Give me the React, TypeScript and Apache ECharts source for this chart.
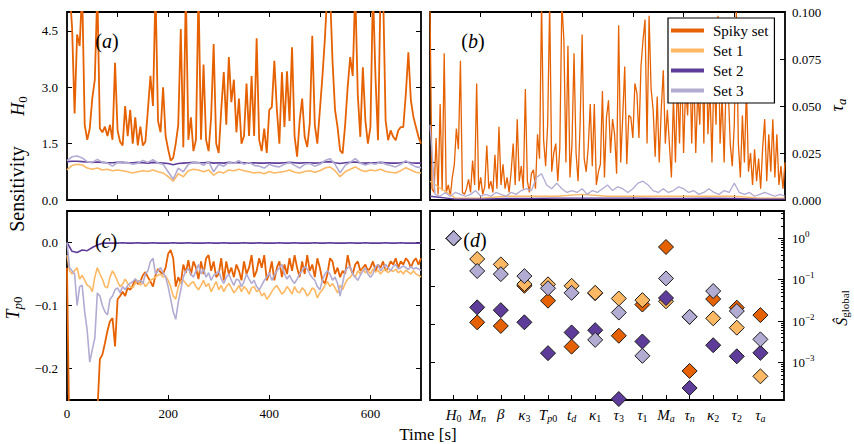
import { useEffect, useRef } from "react";
import * as echarts from "echarts";

// ---------- series styling ----------
const SERIES_NAMES = ["Spiky set", "Set 1", "Set 2", "Set 3"];
const SERIES_COLORS = ["#e66101", "#fdb863", "#5e3c99", "#b2abd2"];
const FONT = '"Liberation Serif", "DejaVu Serif", serif';

// ---------- (a) sensitivity to H0, sampled every 5 s (spiky) / 10 s (sets) ----------
const A_STEP_SPIKY = 5;
const aSpiky = [
  5.6, 5.6, 4.6, 2.3, 4.4, 4.1, 5.6, 2.0, 1.6, 1.9,
  2.7, 3.2, 5.6, 1.9, 1.8, 1.95, 1.7, 2.0, 1.6, 3.65,
  1.85, 1.55, 1.45, 2.5, 1.7, 2.4, 1.5, 2.2, 1.45, 1.95,
  1.45, 1.55, 2.4, 3.3, 2.5, 5.6, 2.1, 1.8, 3.0, 1.7,
  1.35, 1.05, 1.12, 1.5, 2.0, 4.55, 1.4, 5.6, 1.6, 2.2,
  1.3, 1.6, 5.6, 1.6, 3.6, 1.6, 1.3, 2.2, 4.15, 1.5,
  1.25, 2.4, 3.4, 2.0, 3.8, 2.6, 3.2, 1.8, 2.7, 1.5,
  1.7, 3.1, 1.7, 3.3, 1.7, 4.3, 1.6, 1.3, 1.9, 1.25,
  2.4, 2.47, 3.7, 2.4, 1.5, 3.4, 1.94, 3.42, 2.1, 4.06,
  1.7, 1.15, 2.1, 2.7, 1.68, 1.41, 2.03, 4.37, 2.0, 1.5,
  2.38, 3.27, 4.3, 5.6, 5.6, 3.7, 2.4, 1.94, 1.32, 1.24,
  2.0, 3.0, 3.8, 3.3, 5.6, 2.8, 1.68, 3.53, 2.12, 1.5,
  1.94, 5.6, 3.27, 1.59, 5.6, 5.6, 2.12, 1.59, 1.85, 1.68,
  1.59, 1.85, 1.94, 1.94, 2.82, 3.93, 2.65, 2.21, 1.94, 1.68,
  1.5,
];
const A_STEP_SETS = 10;
const aSet1 = [
  0.8, 0.92, 0.95, 0.93, 0.85, 0.82, 0.85, 0.8, 0.82, 0.78,
  0.8, 0.78, 0.75, 0.72, 0.75, 0.78, 0.76, 0.8, 0.75, 0.72,
  0.62, 0.5, 0.7, 0.62, 0.78, 0.82, 0.8, 0.75, 0.8, 0.66,
  0.75, 0.72, 0.8, 0.78, 0.82, 0.78, 0.75, 0.72, 0.74, 0.7,
  0.76, 0.72, 0.74, 0.76, 0.8, 0.74, 0.72, 0.76, 0.78, 0.74,
  0.78, 0.85, 0.88, 0.78, 0.62, 0.75, 0.82, 0.88, 0.8, 0.76,
  0.8, 0.78, 0.82, 0.76, 0.74, 0.72, 0.78, 0.86, 0.8, 0.74,
  0.72,
];
const aSet2 = [
  1.02, 1.03, 1.03, 1.02, 1.01, 1.0, 1.01, 1.0, 0.99, 0.99,
  1.0, 1.0, 0.99, 0.99, 1.0, 0.99, 0.98, 1.0, 0.99, 0.98,
  0.97, 0.94, 0.97, 0.98, 0.99, 1.0, 0.99, 0.99, 1.0, 0.98,
  0.99, 0.98, 1.0, 0.99, 1.0, 0.99, 0.98, 0.99, 0.98, 0.98,
  0.99, 0.98, 0.98, 0.99, 1.0, 0.99, 0.98, 0.99, 0.99, 0.98,
  0.99, 1.01, 1.02, 0.99, 0.97, 0.99, 1.0, 1.01, 0.99, 0.98,
  0.99, 0.99, 1.0, 0.99, 0.98, 0.98, 0.99, 1.01, 0.99, 0.98,
  0.98,
];
const aSet3 = [
  1.05, 1.15, 1.17, 1.12, 1.02, 1.0, 1.08, 1.0, 0.98, 0.9,
  1.0, 0.98, 1.0, 0.95, 0.98, 1.05, 1.0, 1.07, 0.98, 0.95,
  0.75, 0.55, 0.85, 0.75, 0.95, 1.0, 1.0, 0.92, 1.02, 0.75,
  0.95, 0.9, 1.0, 0.97, 1.05, 0.95, 1.0, 0.92, 0.9, 0.85,
  0.95, 0.9, 0.88, 0.95, 1.0, 0.92, 0.85, 0.95, 0.97, 0.9,
  0.95, 1.05, 1.1, 0.95, 0.72, 0.92, 1.0, 1.1, 0.98, 0.93,
  0.98, 0.95, 1.02, 0.95, 0.92, 0.88, 0.95, 1.05, 0.95, 0.88,
  0.86,
];

// ---------- (b) sensitivity to tau_a ----------
const B_STEP_SPIKY = 4;
const bSpiky = [
  0.105, 0.006, 0.004, 0.033, 0.003, 0.051, 0.005, 0.078, 0.004, 0.008,
  0.002, 0.012, 0.019, 0.038, 0.027, 0.074, 0.004, 0.003, 0.006, 0.011,
  0.004, 0.021, 0.008, 0.062, 0.005, 0.012, 0.003, 0.007, 0.029, 0.006,
  0.010, 0.004, 0.024, 0.006, 0.039, 0.008, 0.019, 0.006, 0.012, 0.004,
  0.015, 0.030, 0.008, 0.043, 0.010, 0.018, 0.006, 0.059, 0.010, 0.004,
  0.014, 0.016, 0.006, 0.035, 0.022, 0.105, 0.032, 0.018, 0.040, 0.105,
  0.015, 0.025, 0.030, 0.010, 0.028, 0.105, 0.085, 0.020, 0.082, 0.012,
  0.030, 0.078, 0.025, 0.010, 0.040, 0.088, 0.022, 0.015, 0.028, 0.051,
  0.018, 0.051, 0.008, 0.015, 0.019, 0.058, 0.012, 0.044, 0.053, 0.025,
  0.043, 0.035, 0.014, 0.093, 0.020, 0.044, 0.071, 0.019, 0.045, 0.044,
  0.033, 0.062, 0.057, 0.033, 0.071, 0.085, 0.096, 0.030, 0.098, 0.059,
  0.048, 0.023, 0.055, 0.020, 0.048, 0.069, 0.030, 0.048, 0.030, 0.012,
  0.055, 0.020, 0.065, 0.030, 0.075, 0.025, 0.060, 0.045, 0.080, 0.030,
  0.070, 0.025, 0.058, 0.040, 0.085, 0.030, 0.095, 0.035, 0.060, 0.020,
  0.070, 0.040, 0.098, 0.030, 0.055, 0.020, 0.065, 0.060, 0.030, 0.018,
  0.040, 0.100, 0.030, 0.012, 0.045, 0.020, 0.060, 0.015, 0.025, 0.008,
  0.027, 0.010, 0.022, 0.006, 0.028, 0.043, 0.010, 0.035, 0.015, 0.043,
  0.012, 0.035, 0.008, 0.018, 0.006, 0.020,
];
const B_STEP_LOW = 50;
const bSet1 = [0.010, 0.001, 0.001, 0.002, 0.002, 0.002, 0.003, 0.002, 0.002, 0.002, 0.002, 0.002, 0.002, 0.001, 0.001];
const bSet2 = [0.002, 0.0005, 0.0005, 0.0008, 0.0008, 0.001, 0.001, 0.001, 0.001, 0.0008, 0.0008, 0.001, 0.0008, 0.0005, 0.0005];
const B_STEP_SET3 = 10;
const bSet3 = [
  0.040, 0.003, 0.002, 0.004, 0.002, 0.004, 0.003, 0.002, 0.003, 0.005,
  0.002, 0.003, 0.002, 0.004, 0.003, 0.002, 0.004, 0.003, 0.005, 0.006,
  0.005, 0.012, 0.014, 0.008, 0.006, 0.009, 0.006, 0.004, 0.005, 0.004,
  0.006, 0.003, 0.005, 0.004, 0.006, 0.008, 0.005, 0.007, 0.006, 0.004,
  0.006, 0.009, 0.010, 0.008, 0.005, 0.004, 0.006, 0.004, 0.005, 0.007,
  0.006, 0.004, 0.005, 0.003, 0.004, 0.006, 0.004, 0.003, 0.005, 0.004,
  0.009, 0.004, 0.003, 0.004, 0.002, 0.003, 0.004, 0.003, 0.002, 0.003,
  0.002,
];

// ---------- (c) sensitivity to Tp0 ----------
const C_STEP = 5;
const cSpiky = [
  -0.04, -0.33, -0.36, -0.38, -0.39, -0.4, -0.39, -0.38, -0.36, -0.35,
  -0.34, -0.31, -0.27, -0.185, -0.178, -0.16, -0.14, -0.125, -0.12, -0.165,
  -0.09, -0.085, -0.078, -0.085, -0.072, -0.075, -0.068, -0.058, -0.066, -0.062,
  -0.052, -0.047, -0.055, -0.062, -0.07, -0.052, -0.042, -0.047, -0.05, -0.04,
  -0.018, -0.012, -0.025, -0.07, -0.055, -0.065, -0.035, -0.048, -0.028, -0.052,
  -0.03, -0.04, -0.058, -0.03, -0.05, -0.025, -0.02, -0.045, -0.03, -0.055,
  -0.05, -0.025, -0.06, -0.03, -0.05, -0.04, -0.055, -0.035, -0.045, -0.06,
  -0.03, -0.05, -0.04, -0.02, -0.055, -0.045, -0.025, -0.04, -0.02, -0.06,
  -0.05, -0.03, -0.06, -0.04, -0.03, -0.055, -0.035, -0.05, -0.025, -0.045,
  -0.02, -0.04, -0.055, -0.03, -0.05, -0.02, -0.045, -0.035, -0.055, -0.025,
  -0.04, -0.06, -0.065, -0.05, -0.025, -0.03, -0.05, -0.04, -0.055, -0.045,
  -0.05, -0.02, -0.04, -0.05, -0.035, -0.03, -0.045, -0.04, -0.035, -0.045,
  -0.04, -0.03, -0.045, -0.035, -0.04, -0.03, -0.045, -0.04, -0.03, -0.035,
  -0.025, -0.04, -0.03, -0.035, -0.025, -0.03, -0.04, -0.03, -0.025, -0.035,
  -0.025,
];
const cSet1 = [
  -0.02, -0.045, -0.05, -0.045, -0.04, -0.058, -0.052, -0.06, -0.068, -0.07,
  -0.078, -0.055, -0.04, -0.05, -0.058, -0.07, -0.072, -0.055, -0.045, -0.052,
  -0.062, -0.07, -0.066, -0.058, -0.065, -0.07, -0.072, -0.065, -0.06, -0.068,
  -0.062, -0.07, -0.065, -0.06, -0.058, -0.055, -0.052, -0.05, -0.055, -0.053,
  -0.06, -0.07, -0.085, -0.09, -0.07, -0.062, -0.06, -0.065, -0.07, -0.065,
  -0.062, -0.07, -0.075, -0.068, -0.06, -0.07, -0.065, -0.078, -0.07, -0.062,
  -0.075, -0.068, -0.078, -0.07, -0.065, -0.072, -0.08, -0.075, -0.068, -0.078,
  -0.07, -0.074, -0.082, -0.072, -0.07, -0.078, -0.075, -0.085, -0.08, -0.09,
  -0.085, -0.078, -0.072, -0.068, -0.075, -0.082, -0.078, -0.07, -0.075, -0.082,
  -0.07, -0.078, -0.08, -0.072, -0.076, -0.085, -0.08, -0.072, -0.075, -0.088,
  -0.08, -0.075, -0.068, -0.062, -0.07, -0.065, -0.072, -0.08, -0.068, -0.075,
  -0.065, -0.058, -0.055, -0.05, -0.055, -0.045, -0.05, -0.042, -0.048, -0.045,
  -0.05, -0.042, -0.047, -0.044, -0.05, -0.045, -0.042, -0.048, -0.044, -0.046,
  -0.042, -0.048, -0.045, -0.05, -0.044, -0.047, -0.05, -0.045, -0.05, -0.052,
  -0.055,
];
const cSet3 = [
  0.0, -0.04, -0.045, -0.05, -0.1, -0.07, -0.068, -0.11, -0.14, -0.19,
  -0.17, -0.152, -0.08, -0.085, -0.1, -0.11, -0.115, -0.09, -0.085, -0.075,
  -0.072, -0.08, -0.07, -0.075, -0.068, -0.065, -0.062, -0.058, -0.063, -0.06,
  -0.065, -0.05, -0.045, -0.03, -0.025, -0.05, -0.045, -0.04, -0.048, -0.055,
  -0.07, -0.09, -0.11, -0.122, -0.095, -0.075, -0.055, -0.045, -0.042, -0.05,
  -0.055, -0.045, -0.035, -0.05, -0.042, -0.055, -0.048, -0.06, -0.052, -0.05,
  -0.045, -0.058, -0.065, -0.055, -0.05, -0.06, -0.068, -0.058, -0.06, -0.07,
  -0.062, -0.05, -0.058, -0.065, -0.06, -0.07, -0.075, -0.068, -0.06, -0.055,
  -0.048, -0.06, -0.052, -0.045, -0.04, -0.035, -0.05, -0.058, -0.052, -0.06,
  -0.065, -0.058, -0.05, -0.045, -0.038, -0.042, -0.05, -0.056, -0.06, -0.07,
  -0.075, -0.06, -0.05, -0.045, -0.05, -0.06, -0.055, -0.065, -0.085, -0.065,
  -0.045, -0.04, -0.038, -0.05, -0.055, -0.06, -0.052, -0.045, -0.04, -0.05,
  -0.055, -0.05, -0.038, -0.035, -0.045, -0.04, -0.035, -0.04, -0.045, -0.038,
  -0.035, -0.042, -0.04, -0.037, -0.04, -0.043, -0.038, -0.042, -0.04, -0.042,
  -0.044,
];
const C_STEP_SET2 = 10;
const cSet2 = [
  0.0, -0.014, -0.016, -0.012, -0.013, -0.008, -0.004, -0.001, -0.001, -0.001,
  -0.001, -0.0005, -0.001, -0.001, -0.0005, -0.001, -0.001, -0.0005, -0.001, -0.001,
  -0.001, -0.0005, -0.001, -0.001, -0.0005, -0.001, -0.001, -0.001, -0.0005, -0.001,
  -0.001, -0.0005, -0.001, -0.001, -0.001, -0.0005, -0.001, -0.001, -0.0005, -0.001,
  -0.001, -0.001, -0.0005, -0.001, -0.001, -0.0005, -0.001, -0.001, -0.001, -0.0005,
  -0.001, -0.001, -0.0005, -0.001, -0.001, -0.001, -0.0005, -0.001, -0.001, -0.0005,
  -0.001, -0.001, -0.001, -0.0005, -0.001, -0.001, -0.0005, -0.001, -0.001, -0.001,
  -0.001,
];

// ---------- (d) global sensitivity per parameter ----------
const parameters = ["H0", "Mn", "beta", "kappa3", "Tp0", "td", "kappa1", "tau3", "tau1", "Ma", "taun", "kappa2", "tau2", "taua"];
const parameterLabels = [
  "{i|H}{s|0}", "{i|M}{si|n}", "{i|β}", "{i|κ}{s|3}", "{i|T}{si|p}{s|0}", "{i|t}{si|d}", "{i|κ}{s|1}",
  "{i|τ}{s|3}", "{i|τ}{s|1}", "{i|M}{si|a}", "{i|τ}{si|n}", "{i|κ}{s|2}", "{i|τ}{s|2}", "{i|τ}{si|a}",
];
const dSpiky = [1.0, 0.0093, 0.0076, 0.071, 0.031, 0.0024, 0.047, 0.0044, 0.025, 0.616, 0.00062, 0.034, 0.021, 0.0139];
const dSet1 = [1.0, 0.316, 0.234, 0.078, 0.077, 0.071, 0.048, 0.035, 0.032, 0.03, 0.0126, 0.0116, 0.0069, 0.00046];
const dSet2 = [1.0, 0.0214, 0.0183, 0.0093, 0.00167, 0.0053, 0.006, 0.00013, 0.0032, 0.036, 0.00024, 0.0026, 0.0014, 0.0017];
const dSet3 = [1.0, 0.162, 0.136, 0.122, 0.062, 0.048, 0.0035, 0.016, 0.00144, 0.107, 0.0126, 0.053, 0.0174, 0.0036];

// axis limits and ticks
const TIME_MAX = 700;
const A_TICKS = [0, 1.5, 3.0, 4.5];
const B_TICKS = [0, 0.025, 0.05, 0.075, 0.1];
const C_TICKS = [-0.2, -0.1, 0.0];
const D_LOG_MIN = -3.91;
const D_LOG_MAX = 0.66;
const D_DECADES = [-3, -2, -1, 0];

// ---------- option building ----------
const toPairs = (values: number[], step: number) => values.map((v, i) => [i * step, v]);

const tickStyle = (length = 5) => ({
  show: true,
  inside: true,
  length,
  lineStyle: { color: "#000", width: 1 },
});

const hiddenLine = { show: false, onZero: false };

const timeAxis = (gridIndex: number, position: "top" | "bottom", ticks: number[], labels: boolean) => ({
  type: "value",
  gridIndex,
  position,
  min: 0,
  max: TIME_MAX,
  axisLine: hiddenLine,
  splitLine: { show: false },
  axisTick: { ...tickStyle(), customValues: ticks },
  axisLabel: labels
    ? { show: true, customValues: ticks, margin: 7, color: "#000", fontFamily: FONT, fontSize: 13 }
    : { show: false },
});

const valueAxis = (
  gridIndex: number,
  position: "left" | "right",
  min: number,
  max: number,
  ticks: number[],
  formatter: ((v: number) => string) | null,
  extra: any = {}
) => ({
  type: "value",
  gridIndex,
  position,
  min,
  max,
  axisLine: hiddenLine,
  splitLine: { show: false },
  axisTick: { ...tickStyle(extra.tickLength ?? 5), customValues: ticks },
  axisLabel: formatter
    ? {
        show: true,
        customValues: ticks,
        formatter,
        margin: extra.margin ?? 8,
        color: "#000",
        fontFamily: FONT,
        fontSize: 13,
        rich: extra.rich,
      }
    : { show: false },
});

const minus = (v: number, digits: number) => (v < 0 ? "\u2212" + Math.abs(v).toFixed(digits) : v.toFixed(digits));

const minorLogTicks: number[] = [];
for (let n = -4; n <= 0; n++) {
  for (let k = 2; k <= 9; k++) {
    const lv = Math.log10(k * Math.pow(10, n));
    if (lv > D_LOG_MIN && lv < D_LOG_MAX) minorLogTicks.push(lv);
  }
}

const lineSeries = (name: string, color: string, data: number[][], xi: number, yi: number, width: number) => ({
  type: "line",
  name,
  data,
  xAxisIndex: xi,
  yAxisIndex: yi,
  showSymbol: false,
  symbol: "none",
  clip: true,
  lineStyle: { color, width },
  itemStyle: { color },
  emphasis: { disabled: true },
});

const scatterSeries = (name: string, color: string, values: number[]) => ({
  type: "scatter",
  name,
  xAxisIndex: 6,
  yAxisIndex: 6,
  symbol: "diamond",
  symbolSize: 15,
  data: values.map((v, i) => [i + 1, Math.log10(v)]),
  itemStyle: { color, borderColor: "#1a1a1a", borderWidth: 1, opacity: 1 },
  emphasis: { disabled: true },
});

const gridBox = (left: number, top: number, width: number, height: number) => ({
  left,
  top,
  width,
  height,
  show: true,
  borderColor: "#000",
  borderWidth: 1.8,
  backgroundColor: "transparent",
});

const subRich = {
  i: { fontStyle: "italic", fontFamily: FONT, fontSize: 15, color: "#000" },
  si: { fontStyle: "italic", fontFamily: FONT, fontSize: 10, color: "#000", padding: [7, 0, 0, 0] },
  s: { fontFamily: FONT, fontSize: 10, color: "#000", padding: [7, 0, 0, 0] },
};

const powRich = {
  b: { fontFamily: FONT, fontSize: 13, color: "#000" },
  sup: { fontFamily: FONT, fontSize: 9, color: "#000", padding: [0, 0, 9, 0] },
};

const gRich = (size: number) => ({
  i: { fontStyle: "italic", fontFamily: FONT, fontSize: size, fill: "#000" },
  p: { fontFamily: FONT, fontSize: size, fill: "#000" },
  r: { fontFamily: FONT, fontSize: size, fill: "#000" },
  si: { fontStyle: "italic", fontFamily: FONT, fontSize: Math.round(size * 0.7), fill: "#000", padding: [8, 0, 0, 0] },
  s: { fontFamily: FONT, fontSize: Math.round(size * 0.7), fill: "#000", padding: [8, 0, 0, 0] },
});

const textEl = (x: number, y: number, text: string, size: number, rotate = false) => ({
  type: "text",
  x,
  y,
  rotation: rotate ? Math.PI / 2 : 0,
  z: 100,
  style: {
    text,
    rich: gRich(size),
    fontFamily: FONT,
    fontSize: size,
    fill: "#000",
    align: "center",
    verticalAlign: "middle",
  },
});

function buildOption(): any {
  const [cS, c1, c2, c3] = SERIES_COLORS;
  const [nS, n1, n2, n3] = SERIES_NAMES;
  const paramTicks = parameters.map((_, i) => i + 1);
  return {
    animation: false,
    backgroundColor: "#fff",
    grid: [gridBox(67, 12, 354, 188), gridBox(430, 12, 355, 188), gridBox(67, 211, 354, 189), gridBox(430, 211, 354, 189)],
    xAxis: [
      timeAxis(0, "bottom", [100, 200, 300, 400, 500, 600], false),
      timeAxis(0, "top", [100, 200, 300, 400, 500, 600], false),
      timeAxis(1, "bottom", [100, 200, 300, 400, 500, 600], false),
      timeAxis(1, "top", [100, 200, 300, 400, 500, 600], false),
      timeAxis(2, "bottom", [0, 200, 400, 600], true),
      timeAxis(2, "top", [200, 400, 600], false),
      {
        type: "value",
        gridIndex: 3,
        position: "bottom",
        min: 0,
        max: parameters.length + 1,
        axisLine: hiddenLine,
        splitLine: { show: false },
        axisTick: { ...tickStyle(), customValues: paramTicks },
        axisLabel: {
          show: true,
          customValues: paramTicks,
          formatter: (v: number) => parameterLabels[Math.round(v) - 1] ?? "",
          rich: subRich,
          margin: 6,
        },
      },
      {
        type: "value",
        gridIndex: 3,
        position: "top",
        min: 0,
        max: parameters.length + 1,
        axisLine: hiddenLine,
        splitLine: { show: false },
        axisTick: { ...tickStyle(), customValues: paramTicks },
        axisLabel: { show: false },
      },
    ],
    yAxis: [
      valueAxis(0, "left", 0, 5, A_TICKS, (v) => v.toFixed(1), { margin: 9 }),
      valueAxis(0, "right", 0, 5, A_TICKS, null),
      valueAxis(1, "right", 0, 0.1, B_TICKS, (v) => v.toFixed(3), { margin: 7 }),
      valueAxis(1, "left", 0, 1, [0.2, 0.4, 0.6, 0.8], null),
      valueAxis(2, "left", -0.25, 0.05, C_TICKS, (v) => minus(v, 1), { margin: 9 }),
      valueAxis(2, "right", -0.25, 0.05, C_TICKS, null),
      valueAxis(
        3,
        "right",
        D_LOG_MIN,
        D_LOG_MAX,
        D_DECADES,
        (v) => `{b|10}{sup|${v === 0 ? "0" : "\u2212" + Math.abs(v)}}`,
        { margin: 8, rich: powRich, tickLength: 6 }
      ),
      valueAxis(3, "right", D_LOG_MIN, D_LOG_MAX, minorLogTicks, null, { tickLength: 3 }),
      valueAxis(3, "left", 0, 1, [0.2, 0.4, 0.6, 0.8], null),
    ],
    legend: {
      data: SERIES_NAMES,
      orient: "vertical",
      left: 668,
      top: 18,
      padding: [5, 6, 5, 3],
      itemGap: 5,
      itemWidth: 33,
      itemHeight: 4,
      icon: "rect",
      selectedMode: false,
      backgroundColor: "#fff",
      borderColor: "#000",
      borderWidth: 1.2,
      borderRadius: 0,
      z: 20,
      textStyle: { fontFamily: FONT, fontSize: 15, color: "#000", padding: [0, 0, 0, 4] },
    },
    series: [
      // (a)
      lineSeries(nS, cS, toPairs(aSpiky, A_STEP_SPIKY), 0, 0, 1.8),
      lineSeries(n1, c1, toPairs(aSet1, A_STEP_SETS), 0, 0, 1.6),
      lineSeries(n2, c2, toPairs(aSet2, A_STEP_SETS), 0, 0, 1.6),
      lineSeries(n3, c3, toPairs(aSet3, A_STEP_SETS), 0, 0, 1.6),
      // (b)
      lineSeries(nS, cS, toPairs(bSpiky, B_STEP_SPIKY), 2, 2, 1.3),
      lineSeries(n1, c1, toPairs(bSet1, B_STEP_LOW), 2, 2, 1.3),
      lineSeries(n2, c2, toPairs(bSet2, B_STEP_LOW), 2, 2, 1.3),
      lineSeries(n3, c3, toPairs(bSet3, B_STEP_SET3), 2, 2, 1.3),
      // (c)
      lineSeries(nS, cS, toPairs(cSpiky, C_STEP), 4, 4, 1.8),
      lineSeries(n1, c1, toPairs(cSet1, C_STEP), 4, 4, 1.6),
      lineSeries(n2, c2, toPairs(cSet2, C_STEP_SET2), 4, 4, 1.6),
      lineSeries(n3, c3, toPairs(cSet3, C_STEP), 4, 4, 1.6),
      // (d)
      scatterSeries(nS, cS, dSpiky),
      scatterSeries(n1, c1, dSet1),
      scatterSeries(n2, c2, dSet2),
      scatterSeries(n3, c3, dSet3),
    ],
    graphic: [
      textEl(107, 41, "{p|(}{i|a}{p|)}", 20),
      textEl(473, 41, "{p|(}{i|b}{p|)}", 20),
      textEl(106, 241, "{p|(}{i|c}{p|)}", 20),
      textEl(475, 240, "{p|(}{i|d}{p|)}", 20),
      textEl(18, 106, "{i|H}{s|0}", 18, true),
      textEl(13, 308, "{i|T}{si|p}{s|0}", 18, true),
      textEl(17, 189, "{r|Sensitivity}", 20, true),
      textEl(837, 105, "{i|τ}{si|a}", 18, true),
      textEl(841, 308, "{i|Ŝ}{s|global}", 16, true),
      textEl(428, 434, "{r|Time [s]}", 17),
    ],
  };
}

export default function App() {
  const ref = useRef<HTMLDivElement>(null);
  useEffect(() => {
    if (!ref.current) return;
    const chart = echarts.init(ref.current, undefined, { renderer: "svg" });
    chart.setOption(buildOption());
    return () => chart.dispose();
  }, []);
  return (
    <div
      ref={ref}
      style={{ position: "absolute", left: 0, top: 0, width: 854, height: 444, background: "#fff" }}
    />
  );
}
